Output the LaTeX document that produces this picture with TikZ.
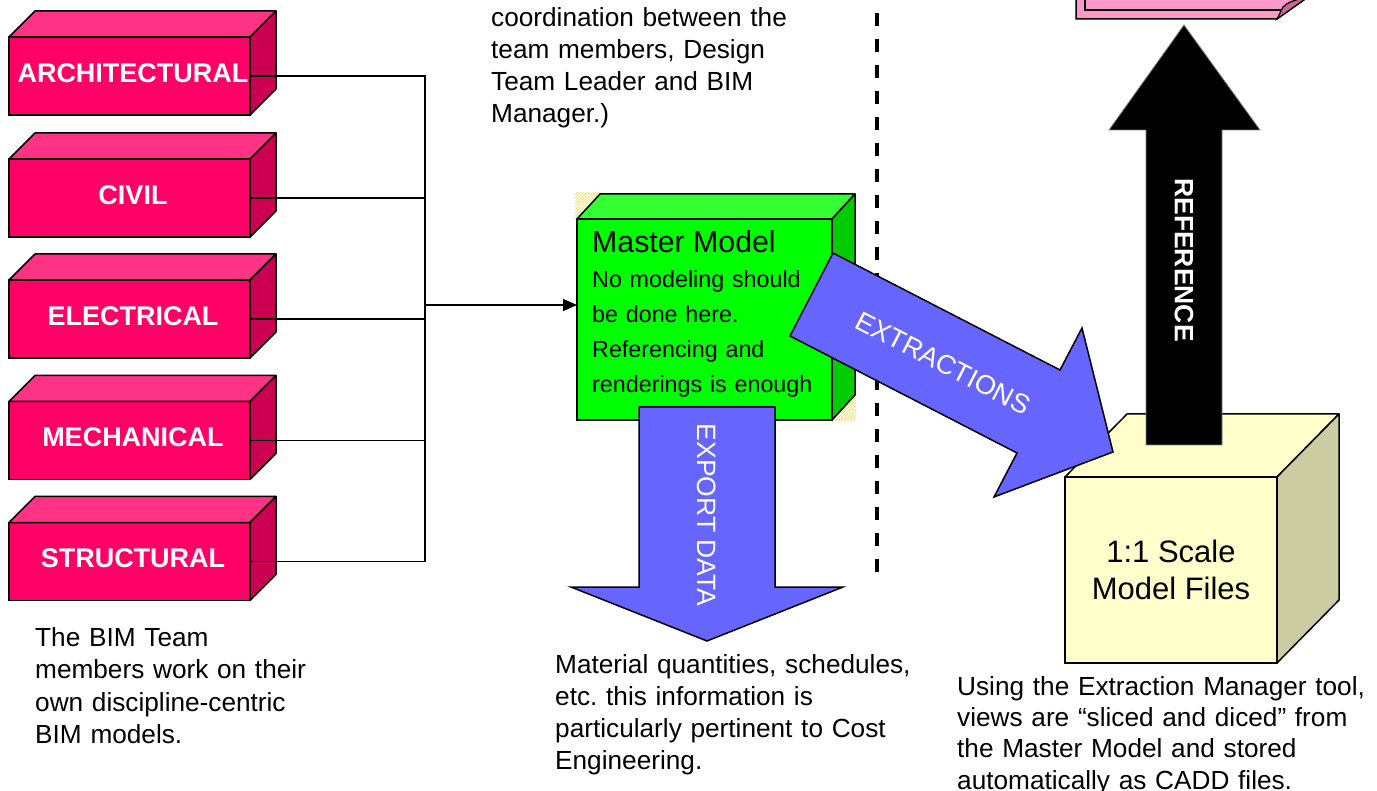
\documentclass[tikz,border=0pt]{standalone}
\usepackage{fontspec}
\setmainfont{Liberation Sans}
\usetikzlibrary{arrows.meta,patterns}
\definecolor{pinkfront}{HTML}{FF0066}
\definecolor{pinktop}{HTML}{FF3385}
\definecolor{pinkside}{HTML}{CC0052}
\definecolor{greenfront}{HTML}{00FF00}
\definecolor{greentop}{HTML}{33FF33}
\definecolor{greenside}{HTML}{00CC00}
\definecolor{yelfront}{HTML}{FFFFCC}
\definecolor{yelside}{HTML}{CCCCA3}
\definecolor{blockblue}{HTML}{6666FF}
\definecolor{notepink}{HTML}{FF99CC}
\definecolor{notedark}{HTML}{CC6699}
\definecolor{hatchcol}{HTML}{F0DC50}
\frenchspacing
\begin{document}
\begin{tikzpicture}[x=1pt,y=-1pt,
  disc/.style={draw=black, line width=1.5pt, fill=pinkfront, minimum width=241pt, minimum height=78pt, inner sep=0pt, outer sep=0pt, text=white, text depth=6pt, font=\fontsize{27}{30}\selectfont\bfseries, execute at begin node={\hspace*{7pt}}},
  face/.style={draw=black, line width=1.5pt, line join=round},
  conn/.style={line width=1.5pt},
  block/.style={draw=black, line width=1.5pt, fill=blockblue, line join=miter},
  blocklabel/.style={text=white, font=\fontsize{26.5}{30}\selectfont, inner sep=0pt},
  note/.style={anchor=base west, inner sep=0pt, align=left, text width=#1},
]
\useasboundingbox (0,0) rectangle (1377,791);

% discipline boxes
\node[disc] (arch)  at (129.5,76)    {ARCHITECTURAL};
\node[disc] (civil) at (129.5,198)   {CIVIL};
\node[disc] (elec)  at (129.5,319)   {ELECTRICAL};
\node[disc] (mech)  at (129.5,440.5) {MECHANICAL};
\node[disc] (struc) at (129.5,561.5) {STRUCTURAL};
\foreach \n in {arch,civil,elec,mech,struc}{
  \filldraw[face, fill=pinktop] (\n.north west) -- ++(26,-26) -- ++(241,0) -- (\n.north east) -- cycle;
  \filldraw[face, fill=pinkside] (\n.north east) -- ++(26,-26) -- ++(0,78) -- (\n.south east) -- cycle;
}

% bus connectors
\coordinate (bus) at (425,305);
\foreach \n in {arch,civil,elec,mech,struc}{
  \draw[conn] (\n.east) -| (bus);
}

% master model box
\fill[pattern=north east lines, pattern color=hatchcol] (575,192) -- (601,192) -- (577,219) -- (575,219) -- cycle;
\fill[pattern=north east lines, pattern color=hatchcol] (832,421) -- (856,396) -- (856,421) -- cycle;
\node[draw=black, line width=1.5pt, fill=greenfront, minimum width=255pt, minimum height=201pt, inner sep=0pt, outer sep=0pt] (mfront) at (704.5,319.5) {};
\filldraw[face, fill=greentop] (mfront.north west) -- ++(23,-25) -- ++(255,0) -- (mfront.north east) -- cycle;
\filldraw[face, fill=greenside] (mfront.north east) -- ++(23,-25) -- ++(0,201) -- (mfront.south east) -- cycle;
\node[anchor=base west, inner sep=0pt, font=\fontsize{30.3}{30}\selectfont] (mmtitle) at (592,253) {Master Model};
\node[note=250pt, font=\fontsize{23.3}{34.7}\selectfont] (mmtext) at (592,288) {No modeling should\\ be done here.\\ Referencing and\\ renderings is enough};

\draw[conn, -{Triangle[length=14pt,width=12pt]}] (bus) -- (bus -| mfront.west);

% separator
\draw[line width=4.5pt, dash pattern=on 13pt off 13pt] (877,13) -- (877,580);

% scale model box
\node[draw=black, line width=1.5pt, fill=yelfront, minimum width=212pt, minimum height=186pt, inner sep=0pt, outer sep=0pt, align=center, font=\fontsize{31}{37}\selectfont] (scale) at (1171,570) {1:1 Scale\\Model Files};
\filldraw[face, fill=yelfront] (scale.north west) -- ++(62,-63) -- ++(212,0) -- (scale.north east) -- cycle;
\filldraw[face, fill=yelside] (scale.north east) -- ++(62,-63) -- ++(0,186) -- (scale.south east) -- cycle;

% top pink sheet (cut off)
\filldraw[draw=black, line width=1.5pt, fill=notepink] (1076,-4) -- (1076,19) -- (1277,19) -- (1308,-3) -- cycle;
\draw[line width=1.5pt] (1085,-4) -- (1085,10) -- (1283,10);
\filldraw[draw=black, line width=1.2pt, fill=notedark] (1277,19) -- (1283,7) .. controls (1288,2) and (1295,0) .. (1300,-1) -- (1308,-3) -- cycle;

% reference arrow
\filldraw[fill=black, draw=gray, line width=0.8pt] (1146,445) -- (1146,130) -- (1109,130) -- (1184,25) -- (1260,130) -- (1222,130) -- (1222,445) -- cycle;
\node[rotate=-90, text=white, inner sep=0pt, font=\fontsize{26.5}{30}\selectfont\bfseries] (reflabel) at (1184,260) {REFERENCE};

% export data arrow
\filldraw[block] (639,407) -- (775,407) -- (775,587) -- (843,587) -- (707,641) -- (571,587) -- (639,587) -- cycle;
\node[blocklabel, rotate=-90] (explabel) at (707,515) {EXPORT DATA};

% extractions arrow
\filldraw[block] (833,253) -- (1060,370) -- (1082,328) -- (1113,452) -- (994,497) -- (1017,453) -- (790,336) -- cycle;
\node[blocklabel, rotate=-27.3, font=\fontsize{27}{30}\selectfont] (extlabel) at (943,363) {EXTRACTIONS};

% notes
\node[note=340pt, font=\fontsize{26.2}{32}\selectfont] (coord) at (491,27) {coordination between the\\ team members, Design\\ Team Leader and BIM\\ Manager.)};
\node[note=320pt, font=\fontsize{26.2}{32.6}\selectfont] (teamnote) at (35,646) {The BIM Team\\ members work on their\\ own discipline-centric\\ BIM models.};
\node[note=380pt, font=\fontsize{26.2}{32}\selectfont] (costnote) at (555,673) {Material quantities, schedules,\\ etc. this information is\\ particularly pertinent to Cost\\ Engineering.};
\node[note=420pt, font=\fontsize{26.2}{31.4}\selectfont] (extnote) at (957,695) {Using the Extraction Manager tool,\\ views are “sliced and diced” from\\ the Master Model and stored\\ automatically as CADD files.};
\end{tikzpicture}
\end{document}
